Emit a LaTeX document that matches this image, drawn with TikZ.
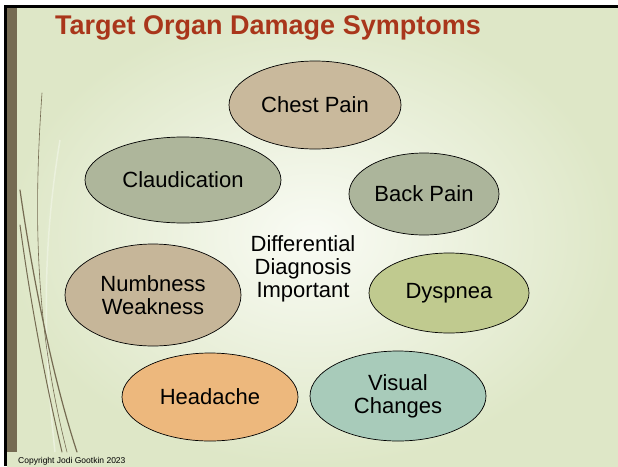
\documentclass[tikz,border=0pt]{standalone}
\usepackage{fontspec}
\setmainfont{Liberation Sans}
\usetikzlibrary{shapes.geometric}
\definecolor{titlered}{HTML}{A9361B}
\definecolor{barolive}{HTML}{756B52}
\definecolor{bgcentre}{HTML}{F9FBF4}
\definecolor{bgedge}{HTML}{DEE7C7}
\definecolor{chesttan}{HTML}{C9B99C}
\definecolor{claudgreen}{HTML}{AEB69B}
\definecolor{backgreen}{HTML}{ACB59B}
\definecolor{numbtan}{HTML}{C6B699}
\definecolor{dyspgreen}{HTML}{C0CA8F}
\definecolor{headorange}{HTML}{EDB87D}
\definecolor{visualteal}{HTML}{A8CBBA}

\begin{document}
\begin{tikzpicture}[
    x=1pt, y=-1pt,
    every node/.style={font=\fontsize{22}{23}\selectfont},
    bubble/.style 2 args={ellipse, draw=black, line width=0.7pt, inner sep=0pt, align=center, minimum width=#1, minimum height=#2},
    deco/.style={draw=barolive, line cap=round},
]
    \useasboundingbox (0,0) rectangle (618,466);
    % slide background and frame
    \fill[white] (0,0) rectangle (618,466);
    \shade[inner color=bgcentre, outer color=bgedge] (7,7.5) rectangle (618,466);
    \fill[black] (4,5) rectangle (618,7.5);
    \fill[black] (4,5) rectangle (7,466);
    \fill[barolive] (7,7.5) rectangle (17,452);

    % decorative strokes
    \draw[white!40!bgedge, line width=1.5pt] (60,140) .. controls (40,260) and (45,360) .. (55,452);
    \draw[deco, line width=0.6pt] (42,93) .. controls (33,220) and (36,330) .. (67,452);
    \draw[deco, line width=1.2pt] (20,190) .. controls (30,260) and (50,370) .. (77,452);
    \draw[deco, line width=1pt] (20,225) .. controls (30,300) and (45,380) .. (62,452);

    \node[anchor=base west, inner sep=0pt, text=titlered, font=\fontsize{27}{30}\selectfont\bfseries] (title) at (55,34) {Target Organ Damage Symptoms};

    \node[bubble={172pt}{88pt}, fill=chesttan] (chest) at (315,105) {Chest Pain};
    \node[bubble={196pt}{86pt}, fill=claudgreen] (claud) at (183,180) {Claudication};
    \node[bubble={150pt}{82pt}, fill=backgreen] (back) at (424,194) {Back Pain};
    \node[bubble={176pt}{102pt}, fill=numbtan] (numb) at (153,295) {Numbness\\Weakness};
    \node[bubble={160pt}{80pt}, fill=dyspgreen] (dysp) at (449,293) {Dyspnea};
    \node[bubble={176pt}{88pt}, fill=headorange] (head) at (210,397) {Headache};
    \node[bubble={176pt}{90pt}, fill=visualteal] (visual) at (398,396) {Visual\\Changes};
    \node[align=center] (diff) at (303,269) {Differential\\Diagnosis\\Important};

    \node[anchor=base west, inner sep=0pt, font=\fontsize{8.5}{10}\selectfont] (copy) at (18,463) {Copyright Jodi Gootkin 2023};
\end{tikzpicture}
\end{document}
